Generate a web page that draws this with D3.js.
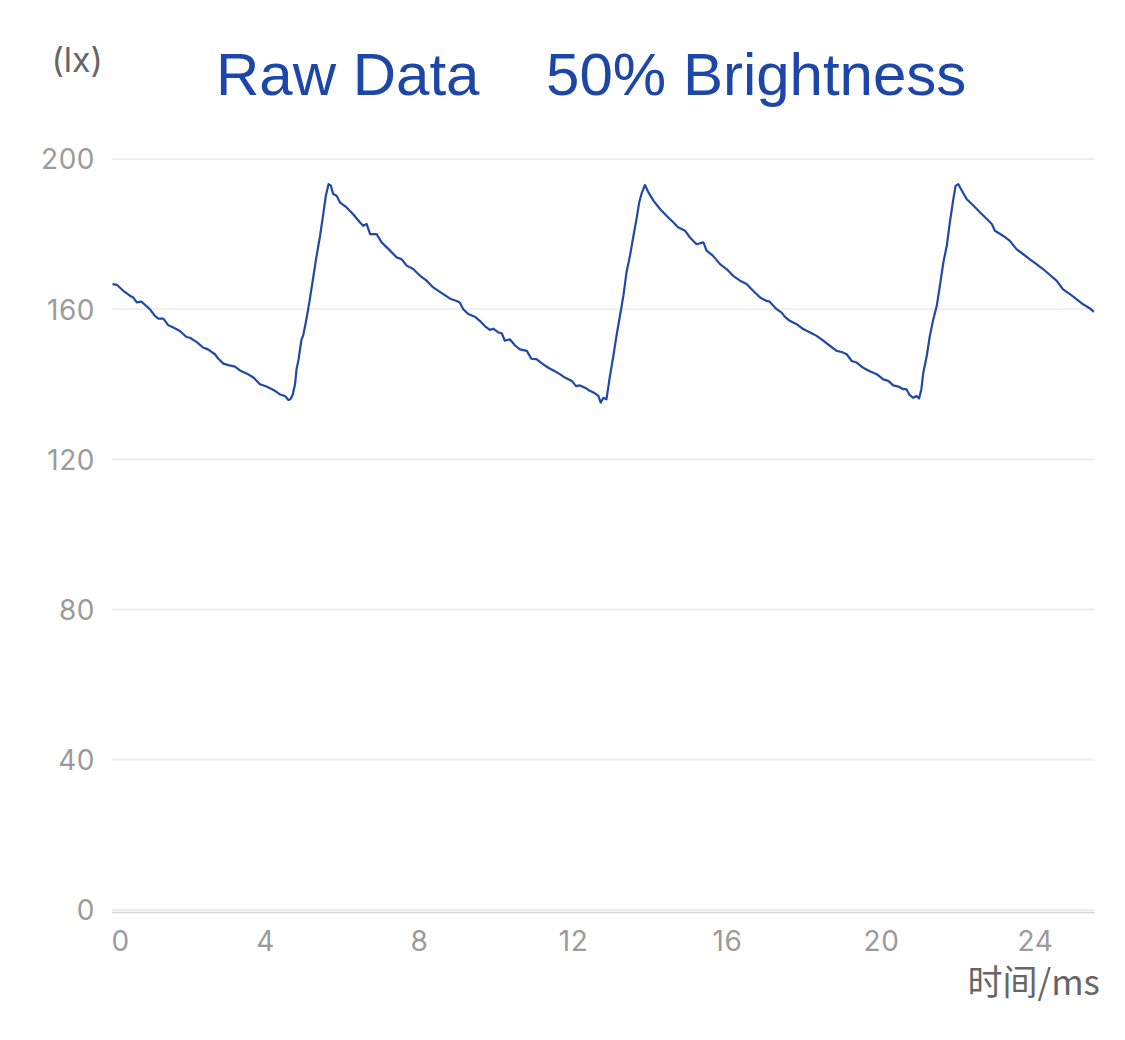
<!DOCTYPE html>
<html>
<head>
<meta charset="utf-8">
<script src="https://cdn.jsdelivr.net/npm/d3@7/dist/d3.min.js"></script>
<style>
  html, body { margin: 0; padding: 0; background: #fff; }
  svg { display: block; }
</style>
</head>
<body>
<svg id="chart" width="1125" height="1040"></svg>
<script>
// ---- data ----
const titleText = "Raw Data    50% Brightness";
const yUnit = "(lx)";
const xUnit = "时间/ms";
const yTicks = [0, 40, 80, 120, 160, 200];
const xTicks = [0, 4, 8, 12, 16, 20, 24];
const xMax = 25.56;

const timeMs = [
  0.04, 0.15, 0.32, 0.49, 0.58, 0.67, 0.79, 1.01, 1.14, 1.23, 1.36, 1.49, 1.62, 1.79, 1.96, 2.05,
  2.22, 2.39, 2.52, 2.70, 2.79, 2.92, 3.05, 3.22, 3.35, 3.52, 3.70, 3.87, 4.04, 4.22, 4.39, 4.52,
  4.61, 4.66, 4.72, 4.78, 4.82, 4.87, 4.91, 4.95, 4.99, 5.08, 5.17, 5.26, 5.34, 5.43, 5.52, 5.58,
  5.65, 5.71, 5.77, 5.86, 5.95, 6.12, 6.29, 6.47, 6.55, 6.64, 6.73, 6.90, 7.03, 7.25, 7.42, 7.55,
  7.68, 7.85, 8.03, 8.20, 8.37, 8.63, 8.81, 8.98, 9.06, 9.15, 9.28, 9.45, 9.58, 9.71, 9.84, 9.93,
  10.06, 10.15, 10.23, 10.36, 10.49, 10.62, 10.80, 10.92, 11.05, 11.23, 11.36, 11.53, 11.66, 11.79, 11.97, 12.08,
  12.18, 12.31, 12.40, 12.57, 12.66, 12.72, 12.79, 12.87, 12.96, 13.05, 13.13, 13.22, 13.31, 13.39, 13.48, 13.57,
  13.65, 13.72, 13.78, 13.87, 13.96, 14.09, 14.26, 14.43, 14.61, 14.73, 14.91, 15.04, 15.21, 15.39, 15.47, 15.64,
  15.82, 15.99, 16.16, 16.34, 16.51, 16.68, 16.86, 17.03, 17.11, 17.29, 17.42, 17.50, 17.63, 17.81, 17.98, 18.16,
  18.33, 18.50, 18.68, 18.85, 18.98, 19.11, 19.24, 19.37, 19.54, 19.71, 19.89, 20.06, 20.19, 20.32, 20.45, 20.58,
  20.66, 20.75, 20.84, 20.92, 20.99, 21.05, 21.10, 21.19, 21.27, 21.36, 21.45, 21.53, 21.62, 21.71, 21.79, 21.88,
  21.94, 22.01, 22.10, 22.23, 22.40, 22.57, 22.75, 22.88, 22.96, 23.18, 23.35, 23.52, 23.69, 23.87, 24.04, 24.21,
  24.39, 24.56, 24.73, 24.91, 25.08, 25.25, 25.43, 25.53
];
const luxValues = [
  166.7, 166.5, 164.9, 163.6, 163.1, 161.8, 162.0, 160.0, 158.2, 157.5, 157.5, 155.7, 155.1, 154.2, 152.6, 152.4,
  151.3, 149.8, 149.3, 148.0, 146.8, 145.5, 145.1, 144.7, 143.7, 142.9, 141.8, 140.0, 139.4, 138.5, 137.3, 136.9,
  135.8, 136.0, 137.2, 140.0, 144.0, 146.5, 149.3, 152.0, 152.9, 157.5, 163.0, 168.9, 174.2, 179.5, 185.8, 190.2,
  193.3, 192.9, 190.7, 190.2, 188.4, 187.1, 185.3, 183.1, 182.2, 182.7, 180.0, 180.0, 177.8, 175.6, 173.8, 173.3,
  171.6, 170.7, 168.9, 167.6, 165.8, 164.0, 162.8, 162.2, 161.8, 160.0, 158.7, 158.0, 156.9, 155.5, 154.5, 154.8,
  153.8, 153.6, 151.6, 152.0, 150.4, 149.3, 148.9, 146.8, 146.7, 145.3, 144.4, 143.5, 142.7, 141.8, 140.9, 139.5,
  139.7, 139.1, 138.5, 137.6, 136.9, 135.1, 136.4, 136.0, 142.2, 147.6, 152.9, 158.2, 163.6, 169.8, 174.2, 179.5,
  184.0, 188.4, 190.7, 193.1, 191.1, 188.9, 186.7, 184.9, 183.1, 181.8, 180.9, 179.1, 177.3, 177.8, 175.6, 174.2,
  172.0, 170.7, 168.9, 167.6, 166.7, 164.9, 163.1, 162.2, 162.0, 160.0, 159.1, 158.0, 156.9, 156.0, 154.7, 153.8,
  152.9, 151.6, 150.2, 148.9, 148.6, 148.0, 146.2, 145.8, 144.4, 143.5, 142.7, 141.3, 140.9, 139.7, 139.4, 138.7,
  138.7, 137.1, 136.4, 136.9, 136.2, 138.7, 143.1, 147.6, 152.9, 157.3, 160.9, 166.2, 172.4, 176.9, 183.1, 189.3,
  192.9, 193.3, 191.6, 189.3, 187.6, 185.8, 184.0, 182.7, 180.9, 179.5, 178.2, 176.0, 174.7, 173.3, 172.0, 170.7,
  169.1, 167.6, 165.3, 164.0, 162.7, 161.3, 160.2, 159.3
];

// ---- layout ----
const svg = d3.select("#chart");
const plot = { left: 111, right: 1095, top: 159, bottom: 910 };
const x = d3.scaleLinear().domain([0, xMax]).range([plot.left, plot.right]);
const y = d3.scaleLinear().domain([0, 200]).range([plot.bottom, plot.top]);

const tickFont = "Inter, 'Noto Sans', sans-serif";

// gridlines
svg.append("g")
  .selectAll("line")
  .data(yTicks)
  .join("line")
  .attr("x1", plot.left + 1).attr("x2", plot.right)
  .attr("y1", d => y(d)).attr("y2", d => y(d))
  .attr("stroke", "#eeeeee").attr("stroke-width", 2);

// x axis line
svg.append("line")
  .attr("x1", plot.left + 1).attr("x2", plot.right)
  .attr("y1", y(0) + 2.5).attr("y2", y(0) + 2.5)
  .attr("stroke", "#d6d6d6").attr("stroke-width", 1.5);

// y axis labels
const yAxis = d3.axisLeft(y).tickValues(yTicks).tickSize(0).tickPadding(0);
const gy = svg.append("g").attr("transform", `translate(95,0)`).call(yAxis);
gy.select(".domain").remove();
gy.selectAll("text")
  .attr("font-family", tickFont).attr("font-size", 28)
  .attr("fill", "#9b9b9b").attr("dy", "0.35em").attr("x", 0)
  .style("letter-spacing", "0.5px");

// x axis labels
const xAxis = d3.axisBottom(x).tickValues(xTicks).tickSize(0).tickPadding(0);
const gx = svg.append("g").attr("transform", `translate(0,931)`).call(xAxis);
gx.select(".domain").remove();
gx.selectAll("text")
  .attr("font-family", tickFont).attr("font-size", 28)
  .attr("fill", "#9b9b9b").attr("dy", "0.71em").attr("y", 0)
  .style("letter-spacing", "0.5px");
gx.selectAll(".tick").filter(d => d === 0).select("text").attr("text-anchor", "start");

// series line
const data = timeMs.map((t, i) => ({ t, v: luxValues[i] }));
svg.append("path")
  .datum(data)
  .attr("fill", "none")
  .attr("stroke", "#1f49a8")
  .attr("stroke-width", 2.2)
  .attr("stroke-linejoin", "round")
  .attr("d", d3.line().x(d => x(d.t)).y(d => y(d.v)));

// title
svg.append("text")
  .attr("x", 216).attr("y", 95)
  .attr("font-family", "'Liberation Sans', Arial, sans-serif")
  .attr("font-size", 60)
  .attr("fill", "#1c47a8")
  .style("white-space", "pre")
  .attr("xml:space", "preserve")
  .text(titleText);

// unit labels
svg.append("text")
  .attr("x", 103).attr("y", 72)
  .attr("text-anchor", "end")
  .attr("font-family", tickFont).attr("font-size", 34)
  .attr("fill", "#666")
  .text(yUnit);

svg.append("text")
  .attr("x", 1100).attr("y", 995)
  .attr("text-anchor", "end")
  .attr("font-family", "'Noto Sans CJK SC', 'Noto Sans', sans-serif").attr("font-size", 35)
  .attr("fill", "#666")
  .text(xUnit);
</script>
</body>
</html>
